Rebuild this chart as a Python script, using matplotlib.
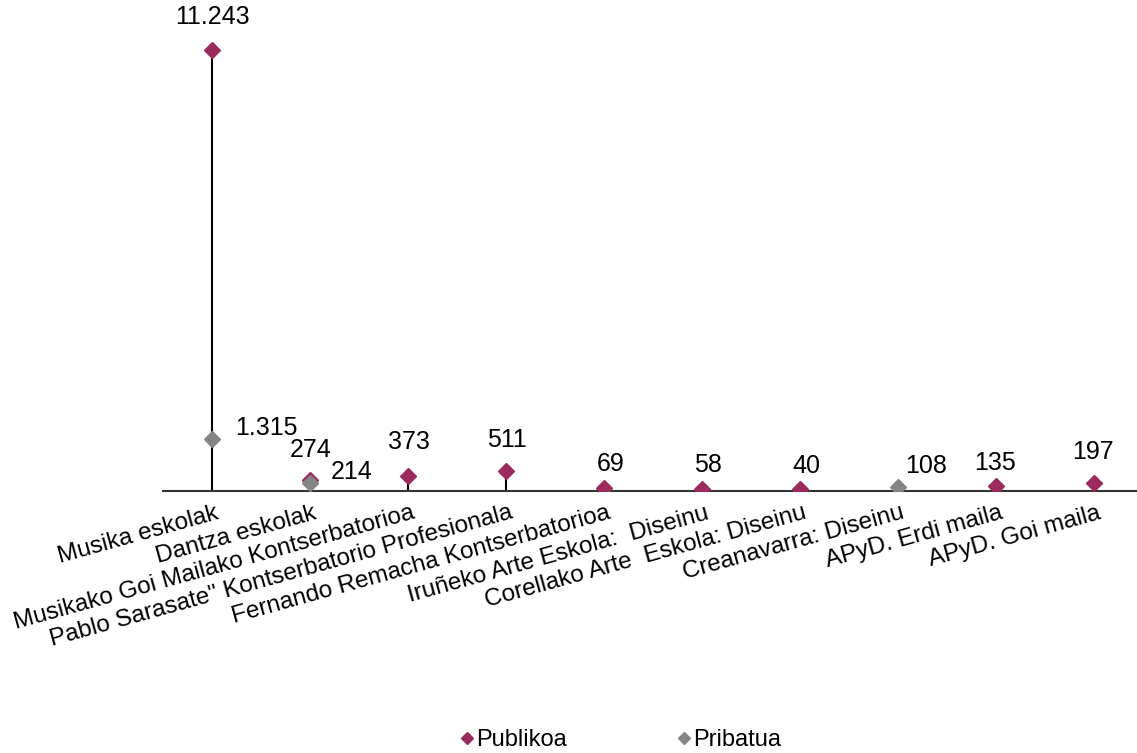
import matplotlib
matplotlib.use("Agg")
import matplotlib.pyplot as plt
import matplotlib.transforms as mtransforms
from matplotlib.lines import Line2D
import numpy as np

categories = [
    "Musika eskolak",
    "Dantza eskolak",
    "Musikako Goi Mailako Kontserbatorioa",
    'Pablo Sarasate" Kontserbatorio Profesionala',
    "Fernando Remacha Kontserbatorioa",
    "Iruñeko Arte Eskola:  Diseinu",
    "Corellako Arte  Eskola: Diseinu",
    "Creanavarra: Diseinu",
    "APyD. Erdi maila",
    "APyD. Goi maila",
]
publikoa = [11243, 274, 373, 511, 69, 58, 40, None, 135, 197]
pribatua = [1315, 214, None, None, None, None, None, 108, None, None]
publikoa_labels = ["11.243", "274", "373", "511", "69", "58", "40", None, "135", "197"]
pribatua_labels = ["1.315", "214", None, None, None, None, None, "108", None, None]

# label offsets in pixels (dx, dy up) relative to the marker centre
pub_off = [(0, 33), (1, 30), (1, 34), (1, 31), (7, 24), (6, 24), (6, 23), None, (-1, 23), (-1, 31)]
pri_off = [(54, 11), (42, 11), None, None, None, None, None, (28, 21), None, None]

C_PUB = "#9B2B5C"
C_PRI = "#858585"
FONT = "Liberation Sans"
FS = 18
FS_CAT = 17.5
FS_LEG = 17

plt.rcParams["font.family"] = [FONT, "DejaVu Sans"]

W, H = 1137, 753
fig = plt.figure(figsize=(W / 100, H / 100), dpi=100)
ax = fig.add_axes([163 / W, (H - 491) / H, 980 / W, 0.6251])

x = np.arange(len(categories))
pub = np.array([np.nan if v is None else v for v in publikoa], dtype=float)
pri = np.array([np.nan if v is None else v for v in pribatua], dtype=float)

# drop lines from the highest point to the axis
top = np.nanmax(np.vstack([pub, pri]), axis=0)
ax.vlines(x, 0, top, color="black", lw=1.5, zorder=1)

ax.plot(x, pub, linestyle="none", marker="D", ms=8, color=C_PUB, zorder=3)
ax.plot(x, pri, linestyle="none", marker="D", ms=8, color=C_PRI, zorder=4)

px = 72 / 100
for i in range(len(categories)):
    if publikoa_labels[i] is not None:
        dx, dy = pub_off[i]
        ax.annotate(publikoa_labels[i], (x[i], pub[i]), xytext=(dx * px, dy * px),
                    textcoords="offset points", ha="center", va="center",
                    fontsize=FS, color="black")
    if pribatua_labels[i] is not None:
        dx, dy = pri_off[i]
        ax.annotate(pribatua_labels[i], (x[i], pri[i]), xytext=(dx * px, dy * px),
                    textcoords="offset points", ha="center", va="center",
                    fontsize=FS, color="black")

ax.set_xlim(-0.5, len(categories) - 0.5)
ax.set_ylim(0, 12000)
for s in ["top", "right", "left"]:
    ax.spines[s].set_visible(False)
ax.spines["bottom"].set_color("#333333")
ax.spines["bottom"].set_linewidth(1.5)
ax.set_yticks([])
ax.set_xticks(x)
ax.set_xticklabels([])
ax.tick_params(axis="x", length=0)

offset = mtransforms.ScaledTranslation(3 / 100, -11 / 100, fig.dpi_scale_trans)
for i, lab in enumerate(categories):
    ax.text(x[i], 0, lab, transform=ax.get_xaxis_transform() + offset,
            rotation=15.5, rotation_mode="anchor", ha="right", va="top",
            fontsize=FS_CAT, color="black", clip_on=False)

handles = [
    Line2D([], [], linestyle="none", marker="D", ms=6.5, color=C_PUB, label="Publikoa"),
    Line2D([], [], linestyle="none", marker="D", ms=6.5, color=C_PRI, label="Pribatua"),
]
fig.legend(handles=handles, loc="center", bbox_to_anchor=(618 / W, (H - 740) / H),
           ncol=2, frameon=False, fontsize=FS_LEG, handletextpad=-0.1, handlelength=1.0,
           columnspacing=4.45, borderpad=0.1)

fig.savefig("out.png", dpi=100)
